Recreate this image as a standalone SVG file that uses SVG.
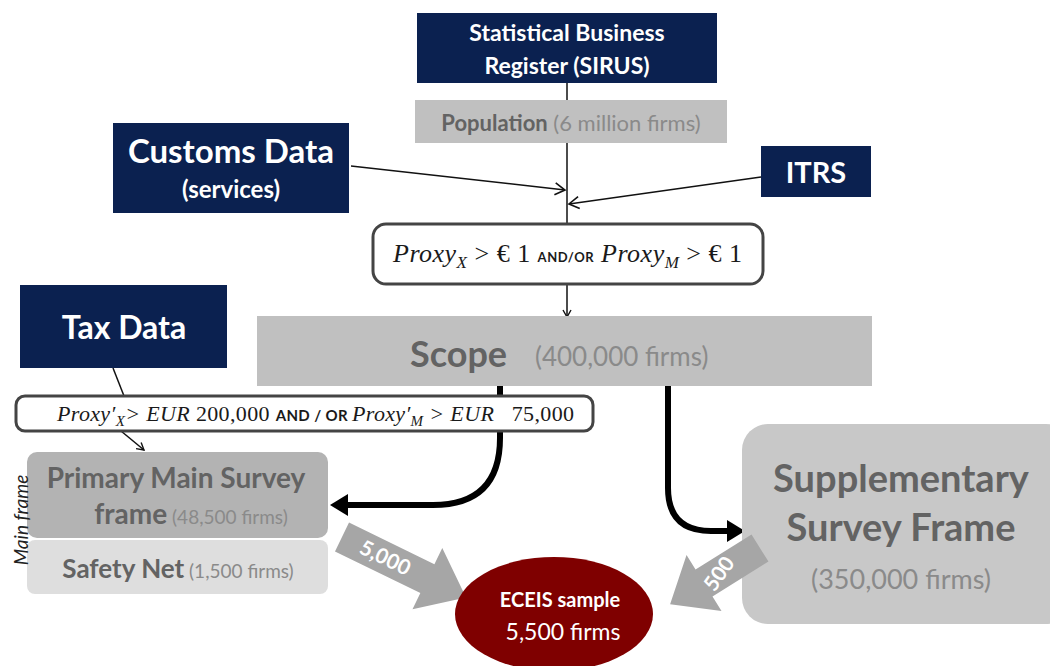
<svg xmlns="http://www.w3.org/2000/svg" width="1050" height="666" viewBox="0 0 1050 666">
<defs>
<marker id="openArr" markerUnits="userSpaceOnUse" markerWidth="14" markerHeight="14" refX="11" refY="7" orient="auto">
<path d="M1,1 L11,7 L1,13" fill="none" stroke="#111" stroke-width="1.6"/>
</marker>
<marker id="smallArr" markerUnits="userSpaceOnUse" markerWidth="10" markerHeight="10" refX="8" refY="5" orient="auto">
<path d="M1,1 L8,5 L1,9" fill="none" stroke="#111" stroke-width="1.4"/>
</marker>
</defs>
<style>
.navy{fill:#0b2150}
.wt{fill:#fff;font-family:Lato,"Liberation Sans",sans-serif;font-weight:bold;text-anchor:middle}
.gb{font-family:Lato,"Liberation Sans",sans-serif;font-weight:bold;fill:#636363}
.gn{font-family:Lato,"Liberation Sans",sans-serif;font-weight:normal;fill:#8a8a8a}
.math{font-family:"Liberation Serif","DejaVu Serif",serif;fill:#1a1a1a}
.it{font-style:italic}
.sc{font-family:Lato,"Liberation Sans",sans-serif;font-weight:bold;fill:#1a1a1a}
.cond{fill:#fff;stroke:#444;stroke-width:3}
.thin{fill:none;stroke:#111;stroke-width:1.5}
.thick{fill:none;stroke:#000;stroke-width:6}
.garr{fill:#a6a6a6}
</style>
<rect width="1050" height="666" fill="#fff"/>

<g id="connectors">
<line class="thin" x1="567" y1="83" x2="567" y2="100"/>
<line class="thin" x1="567" y1="143" x2="567" y2="224"/>
<line class="thin" x1="567" y1="284" x2="567" y2="317" marker-end="url(#smallArr)"/>
<line class="thin" x1="351" y1="166" x2="565" y2="190" marker-end="url(#openArr)"/>
<line class="thin" x1="761" y1="177" x2="569" y2="204" marker-end="url(#openArr)"/>
<line class="thin" x1="113" y1="368" x2="124" y2="396"/>
<line class="thin" x1="121" y1="431" x2="144" y2="450" marker-end="url(#smallArr)"/>
<path class="thick" d="M500 386 V438 Q500 505 433 505 H344"/>
<polygon points="330,505 348,494 348,516" fill="#000"/>
<path class="thick" d="M668 386 V488 Q668 531 711 531 H730"/>
<polygon points="745,531 727,520 727,542" fill="#000"/>
</g>

<g id="sirus">
<rect class="navy" x="417" y="13" width="300" height="70"/>
<text class="wt" x="567" y="41" font-size="23">Statistical Business</text>
<text class="wt" x="567" y="74" font-size="23">Register (SIRUS)</text>
</g>

<g id="population">
<rect x="415" y="100" width="312" height="43" fill="#c0c0c0"/>
<text x="571" y="131" text-anchor="middle" font-size="22"><tspan class="gb" fill="#757575">Population</tspan><tspan class="gn" fill="#8e8e8e"> (6 million firms)</tspan></text>
</g>

<g id="customs">
<rect class="navy" x="113" y="123" width="236" height="90"/>
<text class="wt" x="231" y="163" font-size="33">Customs Data</text>
<text class="wt" x="231" y="198" font-size="24">(services)</text>
</g>

<g id="itrs">
<rect class="navy" x="761" y="146" width="110" height="51"/>
<text class="wt" x="816" y="183" font-size="29">ITRS</text>
</g>

<g id="proxy1">
<rect class="cond" x="373" y="224" width="390" height="60" rx="13"/>
<text class="math" x="393" y="262" font-size="26" textLength="349" lengthAdjust="spacing"><tspan class="it">Proxy</tspan><tspan class="it" font-size="17" dy="6">X</tspan><tspan dy="-6"> &gt; € 1 </tspan><tspan class="sc" font-size="13">AND/OR</tspan><tspan class="it"> Proxy</tspan><tspan class="it" font-size="17" dy="6">M</tspan><tspan dy="-6"> &gt; € 1</tspan></text>
</g>

<g id="scope">
<rect x="257" y="316" width="615" height="70" fill="#c0c0c0"/>
<text class="gb" x="410" y="367" font-size="36" fill="#6a6a6a">Scope</text>
<text class="gn" x="535" y="366" font-size="26" fill="#919191">(400,000 firms)</text>
</g>

<g id="taxdata">
<rect class="navy" x="20" y="285" width="207" height="83"/>
<text class="wt" x="124" y="339" font-size="32">Tax Data</text>
</g>

<g id="proxy2">
<rect class="cond" x="16" y="396" width="577" height="35" rx="9"/>
<text class="math" x="57" y="421" font-size="22" textLength="517" lengthAdjust="spacing"><tspan class="it">Proxy′</tspan><tspan class="it" font-size="15" dy="5">X</tspan><tspan class="it" dy="-5">&gt; EUR</tspan><tspan> 200,000 </tspan><tspan class="sc" font-size="15">AND / OR </tspan><tspan class="it">Proxy′</tspan><tspan class="it" font-size="15" dy="5">M</tspan><tspan class="it" dy="-5"> &gt; EUR</tspan><tspan xml:space="preserve">   75,000</tspan></text>
</g>

<g id="primary">
<rect x="27" y="452" width="301" height="86" rx="10" fill="#b3b3b3"/>
<text class="gb" x="176" y="488" text-anchor="middle" font-size="28" fill="#5c5c5c">Primary Main Survey</text>
<text x="191" y="524" text-anchor="middle"><tspan class="gb" font-size="28" fill="#5c5c5c">frame</tspan><tspan class="gn" font-size="19" fill="#6e6e6e"> (48,500 firms)</tspan></text>
</g>

<g id="safetynet">
<rect x="27" y="540" width="301" height="54" rx="8" fill="#dedede"/>
<text x="178" y="578" text-anchor="middle"><tspan class="gb" font-size="26" fill="#5c5c5c">Safety Net</tspan><tspan class="gn" font-size="19" fill="#6e6e6e"> (1,500 firms)</tspan></text>
</g>

<g id="mainframe-label">
<text x="28" y="520" transform="rotate(-90 28 520)" text-anchor="middle" font-family="Lato,'Liberation Sans',sans-serif" font-style="italic" font-size="19" fill="#222">Main frame</text>
</g>

<g id="supplementary">
<rect x="742" y="424" width="330" height="200" rx="26" fill="#c8c8c8"/>
<text class="gb" x="901" y="492" text-anchor="middle" font-size="38" fill="#5c5c5c">Supplementary</text>
<text class="gb" x="901" y="541" text-anchor="middle" font-size="38" fill="#5c5c5c">Survey Frame</text>
<text class="gn" x="901" y="589" text-anchor="middle" font-size="27">(350,000 firms)</text>
</g>

<g id="arrow5000">
<g transform="translate(342,537) rotate(26)">
<polygon class="garr" points="0,-16 95,-16 95,-34 138,0 95,34 95,16 0,16"/>
<text x="48" y="7" text-anchor="middle" class="wt" font-size="21">5,000</text>
</g>
</g>

<g id="arrow500">
<g transform="translate(760,548) rotate(148)">
<polygon class="garr" points="0,-16 66,-16 66,-33 106,0 66,33 66,16 0,16"/>
</g>
<text x="0" y="0" transform="translate(718,573) rotate(-55)" text-anchor="middle" dominant-baseline="central" class="wt" font-size="21">500</text>
</g>

<g id="eceis">
<ellipse cx="554" cy="614" rx="99" ry="57" fill="#7f0000"/>
<text class="wt" x="560" y="607" font-size="20">ECEIS sample</text>
<text x="563" y="640" text-anchor="middle" font-family="Lato,'Liberation Sans',sans-serif" font-size="23" fill="#fff">5,500 firms</text>
</g>
</svg>
